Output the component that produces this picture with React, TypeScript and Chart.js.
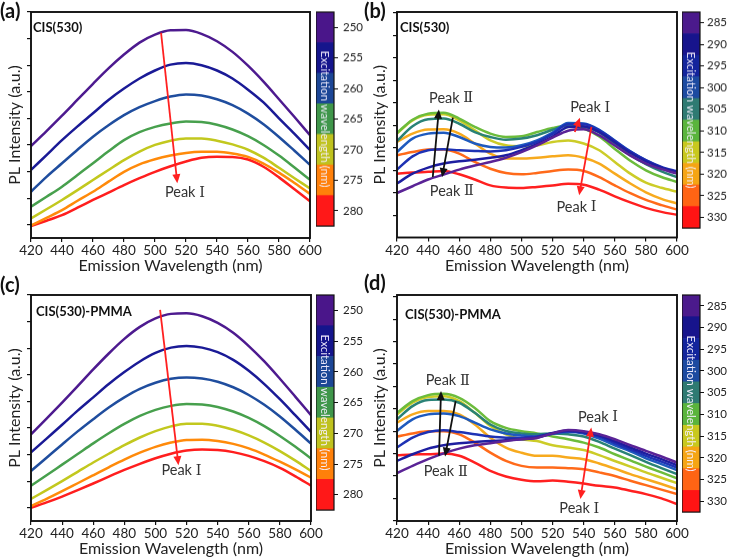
import React, { useEffect, useRef } from 'react';
import { Chart, registerables } from 'chart.js';

Chart.register(...registerables);

const FONT = 'Lato, "Noto Sans", "DejaVu Sans", sans-serif';

// ---------- shared x values ----------
const WAVELENGTHS = [420, 430, 440, 450, 460, 470, 480, 490, 500, 510, 520, 530, 540, 550, 560, 570, 580, 590, 600];

// ---------- excitation labels ----------
const EX_AC = ['250', '255', '260', '265', '270', '275', '280'];
const EX_BD = ['285', '290', '295', '300', '305', '310', '315', '320', '325', '330'];

// ---------- colours ----------
const LINE_AC = ['#4d1a8f', '#1a1a96', '#1f4d9e', '#47a04d', '#c2c81e', '#ff8a0a', '#ff1e1e'];
const BAR_AC = ['#4a168a', '#15158c', '#1c4696', '#3f964a', '#bfc21e', '#ff800a', '#ff1818'];
const LINE_BD = ['#5a2396', '#1e1ea0', '#1e32b4', '#1e5abe', '#2a8276', '#6cbc3c', '#cccc28', '#f7aa1e', '#ff6a1a', '#ff2020'];
const BAR_BD = ['#4b1a8c', '#17148c', '#13249c', '#1c4aa0', '#2e7a72', '#5ab43c', '#c8c81e', '#f5a514', '#ff6414', '#ff1414'];

// ---------- panel (a) CIS(530) ----------
const A_250 = [2.96, 3.52, 4.1, 4.7, 5.3, 5.88, 6.4, 6.85, 7.15, 7.31, 7.32, 7.18, 6.9, 6.5, 5.98, 5.38, 4.72, 4.05, 3.37];
const A_255 = [2.06, 2.62, 3.18, 3.7, 4.19, 4.69, 5.12, 5.5, 5.8, 6.02, 6.08, 6.0, 5.8, 5.5, 5.08, 4.6, 4.0, 3.42, 2.81];
const A_260 = [1.24, 1.8, 2.31, 2.82, 3.31, 3.74, 4.12, 4.42, 4.65, 4.82, 4.9, 4.86, 4.72, 4.5, 4.18, 3.78, 3.3, 2.78, 2.25];
const A_265 = [0.68, 1.05, 1.43, 1.87, 2.31, 2.76, 3.18, 3.48, 3.68, 3.81, 3.88, 3.86, 3.76, 3.58, 3.33, 3.0, 2.6, 2.15, 1.69];
const A_270 = [0.24, 0.58, 0.93, 1.3, 1.68, 2.06, 2.43, 2.75, 3.0, 3.16, 3.24, 3.24, 3.16, 3.02, 2.82, 2.52, 2.14, 1.75, 1.36];
const A_275 = [-0.03, 0.26, 0.55, 0.9, 1.24, 1.62, 1.99, 2.27, 2.46, 2.6, 2.7, 2.74, 2.74, 2.68, 2.55, 2.3, 1.96, 1.57, 1.16];
const A_280 = [-0.05, 0.15, 0.36, 0.64, 0.93, 1.21, 1.49, 1.75, 1.99, 2.2, 2.38, 2.52, 2.56, 2.55, 2.45, 2.18, 1.78, 1.33, 0.88];

// ---------- panel (c) CIS(530)-PMMA ----------
const C_250 = [2.76, 3.35, 3.95, 4.57, 5.2, 5.8, 6.35, 6.8, 7.12, 7.29, 7.31, 7.2, 6.95, 6.58, 6.08, 5.5, 4.85, 4.17, 3.48];
const C_255 = [2.08, 2.6, 3.12, 3.65, 4.15, 4.65, 5.1, 5.5, 5.82, 6.02, 6.08, 6.02, 5.85, 5.56, 5.15, 4.65, 4.08, 3.47, 2.85];
const C_260 = [1.38, 1.88, 2.38, 2.87, 3.33, 3.77, 4.15, 4.47, 4.7, 4.85, 4.9, 4.86, 4.74, 4.53, 4.24, 3.87, 3.43, 2.93, 2.41];
const C_265 = [0.83, 1.22, 1.62, 2.02, 2.42, 2.8, 3.15, 3.45, 3.68, 3.83, 3.9, 3.88, 3.79, 3.62, 3.38, 3.07, 2.7, 2.29, 1.85];
const C_270 = [0.33, 0.66, 1.0, 1.35, 1.7, 2.03, 2.35, 2.64, 2.88, 3.06, 3.16, 3.16, 3.08, 2.93, 2.72, 2.45, 2.13, 1.77, 1.38];
const C_275 = [0.06, 0.33, 0.62, 0.92, 1.22, 1.52, 1.81, 2.07, 2.29, 2.45, 2.55, 2.56, 2.51, 2.4, 2.23, 2.0, 1.73, 1.44, 1.13];
const C_280 = [0.0, 0.2, 0.42, 0.66, 0.91, 1.17, 1.42, 1.65, 1.86, 2.03, 2.15, 2.19, 2.17, 2.09, 1.95, 1.75, 1.5, 1.18, 0.83];

// ---------- panel (b) CIS(530) ----------
const B_285 = [0.99, 1.29, 1.59, 1.81, 2.03, 2.21, 2.37, 2.56, 2.81, 3.11, 3.45, 3.76, 3.82, 3.55, 3.1, 2.65, 2.3, 2.05, 1.85];
const B_290 = [1.41, 1.85, 2.12, 2.3, 2.4, 2.47, 2.56, 2.67, 2.89, 3.16, 3.5, 3.92, 3.95, 3.7, 3.25, 2.78, 2.4, 2.12, 1.92];
const B_295 = [2.03, 2.62, 2.89, 2.93, 2.89, 2.86, 2.84, 2.89, 3.04, 3.26, 3.62, 4.05, 4.05, 3.78, 3.3, 2.83, 2.45, 2.15, 1.95];
const B_300 = [2.81, 3.41, 3.63, 3.67, 3.48, 3.19, 3.04, 3.01, 3.11, 3.33, 3.68, 4.1, 4.08, 3.8, 3.32, 2.84, 2.44, 2.12, 1.9];
const B_305 = [3.3, 3.96, 4.27, 4.3, 4.07, 3.7, 3.48, 3.36, 3.41, 3.56, 3.8, 4.0, 3.95, 3.68, 3.18, 2.68, 2.27, 1.95, 1.7];
const B_310 = [3.66, 4.25, 4.52, 4.56, 4.3, 3.93, 3.63, 3.48, 3.51, 3.7, 3.88, 3.98, 3.85, 3.5, 2.95, 2.42, 2.0, 1.7, 1.48];
const B_315 = [3.63, 4.22, 4.47, 4.49, 4.22, 3.78, 3.33, 3.11, 3.07, 3.1, 3.26, 3.33, 3.19, 2.89, 2.37, 1.85, 1.45, 1.22, 1.05];
const B_320 = [3.26, 3.63, 3.81, 3.82, 3.63, 3.19, 2.74, 2.52, 2.52, 2.56, 2.62, 2.67, 2.56, 2.3, 1.85, 1.41, 1.02, 0.73, 0.52];
const B_325 = [2.67, 2.81, 2.92, 2.92, 2.74, 2.37, 2.07, 1.88, 1.82, 1.88, 1.97, 2.03, 1.97, 1.7, 1.33, 0.98, 0.68, 0.45, 0.25];
const B_330 = [1.85, 1.9, 1.93, 1.97, 1.82, 1.59, 1.33, 1.23, 1.21, 1.26, 1.32, 1.4, 1.36, 1.14, 0.84, 0.57, 0.33, 0.15, 0.02];

// ---------- panel (d) CIS(530)-PMMA ----------
const D_285 = [1.13, 1.45, 1.75, 2.01, 2.22, 2.37, 2.46, 2.56, 2.64, 2.7, 2.9, 3.05, 3.0, 2.86, 2.64, 2.37, 2.12, 1.87, 1.6];
const D_290 = [1.67, 1.97, 2.22, 2.37, 2.46, 2.52, 2.56, 2.59, 2.64, 2.71, 2.92, 3.02, 2.96, 2.82, 2.55, 2.27, 2.0, 1.75, 1.48];
const D_295 = [2.27, 2.71, 2.96, 3.04, 2.96, 2.86, 2.76, 2.71, 2.71, 2.76, 2.9, 3.0, 2.93, 2.76, 2.46, 2.18, 1.9, 1.64, 1.38];
const D_300 = [3.01, 3.53, 3.75, 3.79, 3.67, 3.38, 3.08, 2.9, 2.81, 2.76, 2.88, 2.96, 2.9, 2.67, 2.37, 2.1, 1.79, 1.53, 1.26];
const D_305 = [3.53, 4.12, 4.39, 4.41, 4.27, 3.82, 3.3, 3.01, 2.9, 2.86, 2.9, 2.86, 2.76, 2.52, 2.22, 1.93, 1.63, 1.35, 1.08];
const D_310 = [3.82, 4.34, 4.61, 4.67, 4.49, 4.04, 3.45, 3.15, 3.0, 2.9, 2.76, 2.64, 2.49, 2.27, 1.97, 1.7, 1.42, 1.16, 0.89];
const D_315 = [3.75, 4.27, 4.53, 4.56, 4.34, 3.82, 3.23, 2.86, 2.64, 2.56, 2.37, 2.27, 2.16, 1.93, 1.67, 1.42, 1.16, 0.92, 0.68];
const D_320 = [3.38, 3.75, 3.9, 3.9, 3.75, 3.3, 2.71, 2.27, 2.04, 1.9, 1.9, 1.82, 1.75, 1.56, 1.33, 1.08, 0.86, 0.64, 0.41];
const D_325 = [2.76, 2.9, 3.0, 3.0, 2.86, 2.49, 2.04, 1.67, 1.45, 1.38, 1.38, 1.35, 1.3, 1.16, 1.0, 0.79, 0.59, 0.39, 0.19];
const D_330 = [1.93, 1.96, 1.97, 2.0, 1.9, 1.6, 1.23, 0.98, 0.83, 0.76, 0.8, 0.74, 0.66, 0.56, 0.49, 0.34, 0.19, 0.0, -0.25];

// ---------- annotations (data coordinates: [nm, intensity]) ----------
const ARROWS_A = [{ from: [503.9, 7.22], to: [514.4, 1.56], color: '#ff2020' }];
const NOTES_A = [{ at: [519.3, 1.22], numeral: 'Ⅰ' }];
const ARROWS_C = [{ from: [503, 7.44], to: [514.8, 1.6], color: '#ff2020' }];
const NOTES_C = [{ at: [516.7, 1.39], numeral: 'Ⅰ' }];
const ARROWS_B = [
  { from: [443, 1.7], to: [446.9, 4.7], color: '#111' },
  { from: [455.9, 4.34], to: [449, 1.7], color: '#111' },
  { from: [534.3, 3.7], to: [537.6, 4.34], color: '#ff2020' },
  { from: [545, 3.93], to: [537.1, 0.89], color: '#ff2020' },
];
const NOTES_B = [
  { at: [454.8, 5.22], numeral: 'Ⅱ' },
  { at: [455.3, 1.08], numeral: 'Ⅱ' },
  { at: [544.2, 4.8], numeral: 'Ⅰ' },
  { at: [535.4, 0.37], numeral: 'Ⅰ' },
];
const ARROWS_D = [
  { from: [447, 1.9], to: [448.3, 4.79], color: '#111' },
  { from: [457.7, 4.34], to: [450.9, 1.87], color: '#111' },
  { from: [537.9, -0.03], to: [544.9, 3.16], color: '#ff2020', both: true },
];
const NOTES_D = [
  { at: [452.6, 5.27], numeral: 'Ⅱ' },
  { at: [451.3, 1.19], numeral: 'Ⅱ' },
  { at: [549.2, 3.64], numeral: 'Ⅰ' },
  { at: [537.2, -0.45], numeral: 'Ⅰ' },
];

function drawHead(ctx: CanvasRenderingContext2D, x: number, y: number, ang: number) {
  const hl = 9, hw = 4;
  ctx.beginPath();
  ctx.moveTo(x, y);
  ctx.lineTo(x - hl * Math.cos(ang) + hw * Math.sin(ang), y - hl * Math.sin(ang) - hw * Math.cos(ang));
  ctx.lineTo(x - hl * Math.cos(ang) - hw * Math.sin(ang), y - hl * Math.sin(ang) + hw * Math.cos(ang));
  ctx.closePath();
  ctx.fill();
}

function drawArrow(ctx: CanvasRenderingContext2D, x1: number, y1: number, x2: number, y2: number, color: string, both: boolean) {
  const ang = Math.atan2(y2 - y1, x2 - x1);
  ctx.strokeStyle = color;
  ctx.fillStyle = color;
  ctx.lineWidth = 1.8;
  const sx = both ? x1 + 6 * Math.cos(ang) : x1;
  const sy = both ? y1 + 6 * Math.sin(ang) : y1;
  ctx.beginPath();
  ctx.moveTo(sx, sy);
  ctx.lineTo(x2 - 6 * Math.cos(ang), y2 - 6 * Math.sin(ang));
  ctx.stroke();
  drawHead(ctx, x2, y2, ang);
  if (both) drawHead(ctx, x1, y1, ang + Math.PI);
}

function LineChart(p: any) {
  const ref = useRef<HTMLCanvasElement>(null);
  useEffect(() => {
    const canvas = ref.current!;
    const decor = {
      id: 'decor',
      afterDatasetsDraw(chart: any) {
        const { ctx, chartArea: ca } = chart;
        const xs = chart.scales.x;
        const ys = chart.scales.y;
        ctx.save();
        for (const a of p.arrows) {
          drawArrow(
            ctx,
            xs.getPixelForValue(a.from[0]), ys.getPixelForValue(a.from[1]),
            xs.getPixelForValue(a.to[0]), ys.getPixelForValue(a.to[1]),
            a.color, !!a.both,
          );
        }
        for (const n of p.notes) {
          const cx = xs.getPixelForValue(n.at[0]);
          const cy = ys.getPixelForValue(n.at[1]);
          ctx.font = `14.5px ${FONT}`;
          const w1 = ctx.measureText('Peak ').width;
          ctx.font = '14.5px "DejaVu Serif", "Liberation Serif", serif';
          const w2 = ctx.measureText(n.numeral).width;
          const x0 = cx - (w1 + w2) / 2;
          ctx.fillStyle = '#333';
          ctx.textBaseline = 'middle';
          ctx.textAlign = 'left';
          ctx.font = `14.5px ${FONT}`;
          ctx.fillText('Peak ', x0, cy);
          ctx.font = '14.5px "DejaVu Serif", "Liberation Serif", serif';
          ctx.fillText(n.numeral, x0 + w1, cy + 0.5);
        }
        ctx.font = `bold 13px ${FONT}`;
        ctx.fillStyle = '#111';
        ctx.textBaseline = 'middle';
        ctx.textAlign = 'left';
        ctx.fillText(p.sample, ca.left + p.sampleOffset[0], ca.top + p.sampleOffset[1]);
        ctx.lineWidth = 1.9;
        ctx.strokeStyle = '#111';
        ctx.strokeRect(ca.left, ca.top, ca.right - ca.left, ca.bottom - ca.top);
        ctx.restore();
      },
    };
    const chart = new Chart(canvas, {
      type: 'line',
      data: {
        datasets: p.series.map((s: any) => ({
          data: WAVELENGTHS.map((w, i) => ({ x: w, y: s.values[i] })),
          borderColor: s.color,
          borderWidth: 2.5,
          pointRadius: 0,
          cubicInterpolationMode: 'monotone',
          fill: false,
        })),
      },
      options: {
        responsive: false,
        animation: false,
        devicePixelRatio: 1,
        layout: { autoPadding: false, padding: { left: 0, top: p.padTop, right: p.padRight, bottom: 0 } },
        plugins: { legend: { display: false }, tooltip: { enabled: false } },
        scales: {
          x: {
            type: 'linear',
            min: 420,
            max: 600,
            ticks: { stepSize: 20, font: { family: FONT, size: 13.5 }, color: '#222', padding: 1 },
            grid: { drawOnChartArea: false, drawTicks: true, tickLength: 4, color: '#111', lineWidth: 1.2 },
            border: { display: false },
            title: {
              display: true,
              text: 'Emission Wavelength (nm)',
              font: { family: FONT, size: 16 },
              color: '#222',
              padding: { top: 0, bottom: p.titlePadBottom },
            },
            afterFit: (s: any) => { s.height = p.xAxisH; },
          },
          y: {
            type: 'linear',
            min: p.yMin,
            max: p.yMax,
            ticks: { display: false, stepSize: 1, includeBounds: false },
            grid: { drawOnChartArea: false, drawTicks: true, tickLength: 4, color: '#111', lineWidth: 1.2 },
            border: { display: false },
            title: {
              display: true,
              text: 'PL Intensity (a.u.)',
              font: { family: FONT, size: 16 },
              color: '#222',
              padding: { top: 5, bottom: 0 },
            },
            afterFit: (s: any) => { s.width = p.yAxisW; },
          },
        },
      } as any,
      plugins: [decor],
    });
    return () => chart.destroy();
  }, []);
  return (
    <canvas
      ref={ref}
      width={p.width}
      height={p.height}
      style={{ position: 'absolute', left: p.left, top: p.top, width: p.width, height: p.height }}
    />
  );
}

function ColorBar(p: any) {
  const ref = useRef<HTMLCanvasElement>(null);
  useEffect(() => {
    const canvas = ref.current!;
    const deco = {
      id: 'cbdeco',
      afterDatasetsDraw(chart: any) {
        const { ctx, chartArea: ca } = chart;
        ctx.save();
        ctx.translate((ca.left + ca.right) / 2, (ca.top + ca.bottom) / 2);
        ctx.rotate(Math.PI / 2);
        ctx.font = `11.5px ${FONT}`;
        ctx.fillStyle = 'rgba(245,240,255,0.95)';
        ctx.textAlign = 'center';
        ctx.textBaseline = 'middle';
        ctx.fillText('Excitation wavelength (nm)', 0, 0.5);
        ctx.restore();
        ctx.save();
        ctx.lineWidth = 1.2;
        ctx.strokeStyle = '#111';
        ctx.strokeRect(ca.left, ca.top, ca.right - ca.left, ca.bottom - ca.top);
        ctx.restore();
      },
    };
    const chart = new Chart(canvas, {
      type: 'bar',
      data: {
        labels: p.labels,
        datasets: [{
          data: p.labels.map(() => 1),
          backgroundColor: p.colors,
          borderWidth: 0,
          barPercentage: 1,
          categoryPercentage: 1,
        }],
      },
      options: {
        indexAxis: 'y',
        responsive: false,
        animation: false,
        devicePixelRatio: 1,
        layout: { autoPadding: false, padding: { left: 0, top: p.padTop, right: 0, bottom: 0 } },
        plugins: { legend: { display: false }, tooltip: { enabled: false } },
        scales: {
          x: { display: false, min: 0, max: 1 },
          y: {
            position: 'right',
            ticks: { font: { family: FONT, size: 11.5 }, color: '#222', padding: p.labelPad },
            grid: { offset: false, drawOnChartArea: false, drawTicks: true, tickLength: 4, color: '#111', lineWidth: 1 },
            border: { display: false },
            afterFit: (s: any) => { s.width = p.axisW; },
          },
        },
      } as any,
      plugins: [deco],
    });
    return () => chart.destroy();
  }, []);
  return (
    <canvas
      ref={ref}
      width={p.width}
      height={p.height}
      style={{ position: 'absolute', left: p.left, top: p.top, width: p.width, height: p.height }}
    />
  );
}

const seriesOf = (vals: number[][], colors: string[]) => vals.map((v, i) => ({ values: v, color: colors[i] }));

const SERIES_A = seriesOf([A_250, A_255, A_260, A_265, A_270, A_275, A_280], LINE_AC);
const SERIES_C = seriesOf([C_250, C_255, C_260, C_265, C_270, C_275, C_280], LINE_AC);
const SERIES_B = seriesOf([B_285, B_290, B_295, B_300, B_305, B_310, B_315, B_320, B_325, B_330], LINE_BD);
const SERIES_D = seriesOf([D_285, D_290, D_295, D_300, D_305, D_310, D_315, D_320, D_325, D_330], LINE_BD);

const letterStyle: React.CSSProperties = {
  position: 'absolute',
  fontFamily: FONT,
  fontWeight: 700,
  fontSize: 20,
  lineHeight: '22px',
  color: '#111',
  margin: 0,
};

export default function App() {
  return (
    <div style={{ position: 'absolute', left: 0, top: 0, width: 729, height: 558, background: '#fff', overflow: 'hidden' }}>
      <LineChart left={0} top={0} width={324} height={278} padTop={12} padRight={14} yAxisW={31} xAxisH={40}
        titlePadBottom={3} yMin={-0.5} yMax={8} series={SERIES_A} arrows={ARROWS_A} notes={NOTES_A}
        sample="CIS(530)" sampleOffset={[2, 15.5]} />
      <ColorBar left={316} top={0} width={58} height={237.5} padTop={12} axisW={40} labelPad={5}
        labels={EX_AC} colors={BAR_AC} />

      <LineChart left={365} top={0} width={326} height={278} padTop={12} padRight={14} yAxisW={32} xAxisH={40.5}
        titlePadBottom={3} yMin={-0.99} yMax={9.04} series={SERIES_B} arrows={ARROWS_B} notes={NOTES_B}
        sample="CIS(530)" sampleOffset={[3, 15.5]} />
      <ColorBar left={682} top={0} width={47} height={237.5} padTop={12} axisW={29} labelPad={3}
        labels={EX_BD} colors={BAR_BD} />

      <LineChart left={0} top={280} width={325} height={278} padTop={15} padRight={14} yAxisW={31} xAxisH={37}
        titlePadBottom={0} yMin={-0.5} yMax={8} series={SERIES_C} arrows={ARROWS_C} notes={NOTES_C}
        sample="CIS(530)-PMMA" sampleOffset={[5, 16.5]} />
      <ColorBar left={316} top={280} width={58} height={242} padTop={15} axisW={40} labelPad={5}
        labels={EX_AC} colors={BAR_AC} />

      <LineChart left={365} top={280} width={326} height={278} padTop={15} padRight={14} yAxisW={32} xAxisH={37}
        titlePadBottom={0} yMin={-1.01} yMax={9.08} series={SERIES_D} arrows={ARROWS_D} notes={NOTES_D}
        sample="CIS(530)-PMMA" sampleOffset={[8, 20]} />
      <ColorBar left={682} top={280} width={47} height={242} padTop={15} axisW={29} labelPad={3}
        labels={EX_BD} colors={BAR_BD} />

      <div style={{ ...letterStyle, left: 0, top: -1 }}>(a)</div>
      <div style={{ ...letterStyle, left: 364, top: -1 }}>(b)</div>
      <div style={{ ...letterStyle, left: 0, top: 273 }}>(c)</div>
      <div style={{ ...letterStyle, left: 364, top: 271 }}>(d)</div>
    </div>
  );
}
